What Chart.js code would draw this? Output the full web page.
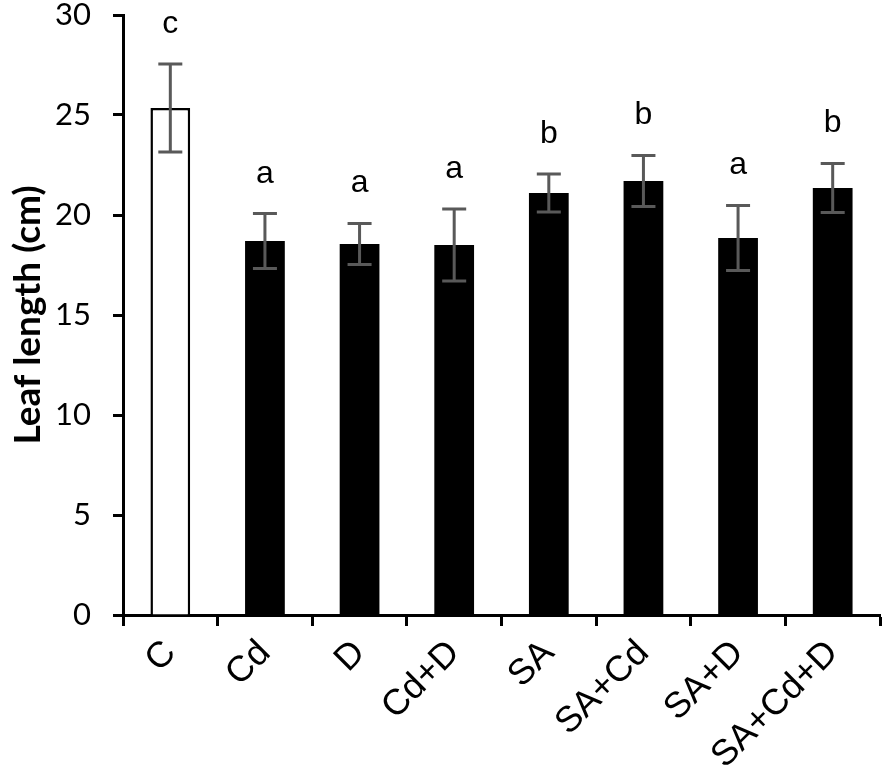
<!DOCTYPE html>
<html>
<head>
<meta charset="utf-8">
<script src="https://cdn.jsdelivr.net/npm/chart.js@4"></script>
<style>
  html, body { margin: 0; padding: 0; background: #fff; }
  #wrap { width: 886px; height: 780px; }
</style>
</head>
<body>
<div id="wrap"><canvas id="leaf-chart"></canvas></div>
<script>
const treatments = ['C', 'Cd', 'D', 'Cd+D', 'SA', 'SA+Cd', 'SA+D', 'SA+Cd+D'];
const leafLength = [25.35, 18.7, 18.55, 18.5, 21.1, 21.7, 18.85, 21.35];
const leafErr = [2.2, 1.37, 1.03, 1.8, 0.95, 1.28, 1.63, 1.23];
const groupLetters = ['c', 'a', 'a', 'a', 'b', 'b', 'a', 'b'];
const yTicks = [0, 5, 10, 15, 20, 25, 30];

// error bars + significance letters
const errorBars = {
    id: 'errorBars',
    afterDatasetsDraw(chart) {
        const ctx = chart.ctx;
        const x = chart.scales.x;
        const y = chart.scales.y;
        ctx.save();
        ctx.strokeStyle = '#595959';
        ctx.lineWidth = 3;
        leafLength.forEach((v, i) => {
            const cx = x.getPixelForValue(i);
            const top = y.getPixelForValue(v + leafErr[i]);
            const bot = y.getPixelForValue(v - leafErr[i]);
            ctx.beginPath();
            ctx.moveTo(cx, top); ctx.lineTo(cx, bot);
            ctx.moveTo(cx - 12, top); ctx.lineTo(cx + 12, top);
            ctx.moveTo(cx - 12, bot); ctx.lineTo(cx + 12, bot);
            ctx.stroke();
            ctx.fillStyle = '#000';
            ctx.font = '32px "Liberation Sans", Arial, sans-serif';
            ctx.textAlign = 'center';
            ctx.textBaseline = 'alphabetic';
            ctx.fillText(groupLetters[i], cx, top - 31);
        });
        ctx.restore();
    }
};

new Chart(document.getElementById('leaf-chart'), {
    type: 'bar',
    data: {
        labels: treatments,
        datasets: [{
            data: leafLength,
            backgroundColor: leafLength.map((v, i) => i === 0 ? '#ffffff' : '#000000'),
            borderColor: '#000000',
            borderWidth: leafLength.map((v, i) => i === 0 ? 2.5 : 0),
            barPercentage: 0.42,
            categoryPercentage: 1
        }]
    },
    options: {
        responsive: true,
        maintainAspectRatio: false,
        animation: false,
        layout: { padding: { top: 15, right: 6, left: 6, bottom: 0 } },
        plugins: { legend: { display: false }, tooltip: { enabled: false } },
        scales: {
            x: {
                grid: { offset: true, drawOnChartArea: false, tickLength: 11, tickColor: '#000', tickWidth: 3 },
                border: { color: '#000', width: 3 },
                ticks: {
                    color: '#000',
                    font: { family: '"Liberation Sans", Arial, sans-serif', size: 36 },
                    maxRotation: 45, minRotation: 45, padding: 6
                },
                afterFit(scale) { scale.height = 165; }
            },
            y: {
                min: 0, max: 30,
                afterBuildTicks(scale) { scale.ticks = yTicks.map(v => ({ value: v })); },
                grid: { drawOnChartArea: false, tickLength: 10, tickColor: '#000', tickWidth: 3 },
                border: { color: '#000', width: 3 },
                ticks: {
                    color: '#000', padding: 22,
                    font: { family: 'Lato, "Open Sans", sans-serif', size: 31 }
                },
                title: {
                    display: true, text: 'Leaf length (cm)', color: '#000',
                    font: { family: 'Lato, "Open Sans", sans-serif', size: 37, weight: 'bold' },
                    padding: { top: 0, bottom: 0 }
                },
                afterFit(scale) {
                    scale.width = 117;
                    scale.paddingTop = 0;
                    scale.paddingBottom = 0;
                }
            }
        }
    },
    plugins: [errorBars]
});
</script>
</body>
</html>
